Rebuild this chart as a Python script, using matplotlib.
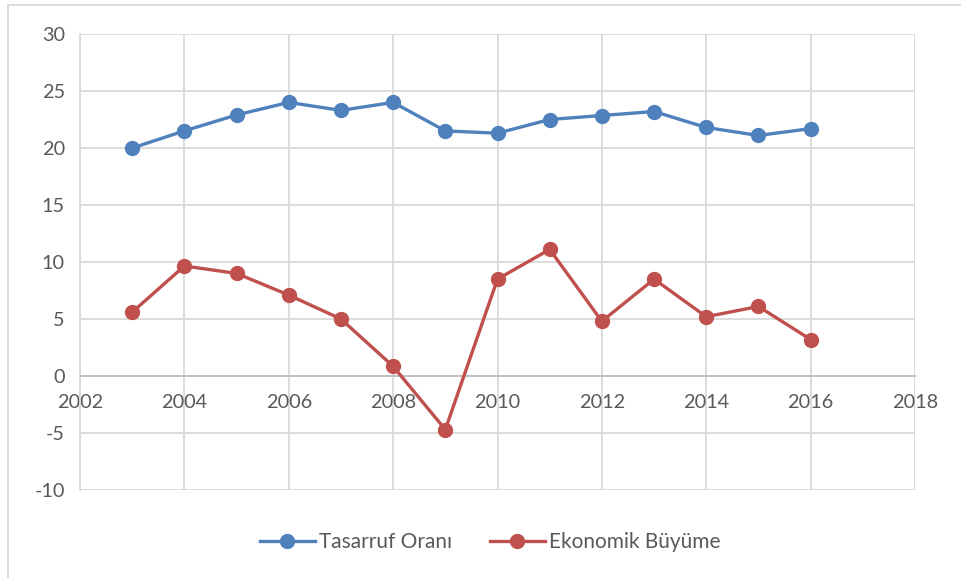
import matplotlib.pyplot as plt
from matplotlib.patches import Rectangle

# Datos
years = [2003, 2004, 2005, 2006, 2007, 2008, 2009, 2010, 2011, 2012, 2013, 2014, 2015, 2016]
tasarruf = [20.0, 21.5, 22.9, 24.0, 23.3, 24.0, 21.5, 21.3, 22.5, 22.85, 23.2, 21.8, 21.1, 21.7]
buyume = [5.6, 9.65, 9.0, 7.1, 5.0, 0.85, -4.7, 8.5, 11.1, 4.8, 8.5, 5.2, 6.1, 3.2]
x_ticks = [2002, 2004, 2006, 2008, 2010, 2012, 2014, 2016, 2018]
y_ticks = [-10, -5, 0, 5, 10, 15, 20, 25, 30]

plt.rcParams['font.family'] = ['Lato', 'DejaVu Sans']
plt.rcParams['axes.unicode_minus'] = False
text_color = '#595959'
grid_color = '#D9D9D9'

fig = plt.figure(figsize=(9.61, 5.78), dpi=100)
W, H = 961, 578
ax = fig.add_axes([80 / W, 1 - 490 / H, (915 - 80) / W, (490 - 34) / H])

ax.plot(years, tasarruf, color='#4F81BD', lw=2.4, marker='o', ms=10, label='Tasarruf Oranı', zorder=3)
ax.plot(years, buyume, color='#C0504D', lw=2.4, marker='o', ms=10, label='Ekonomik Büyüme', zorder=3)

ax.set_xlim(2002, 2018)
ax.set_ylim(-10, 30)
ax.set_xticks(x_ticks)
ax.set_yticks(y_ticks)
ax.grid(True, color=grid_color, lw=1.3)
ax.set_axisbelow(True)

# eje x en y=0, como en Excel
ax.spines['bottom'].set_position(('data', 0))
ax.spines['bottom'].set_color('#BFBFBF')
ax.spines['bottom'].set_linewidth(1.3)
ax.spines['left'].set_color(grid_color)
ax.spines['left'].set_linewidth(1.3)
ax.spines['top'].set_visible(False)
ax.spines['right'].set_visible(False)
ax.tick_params(length=0, labelsize=14.3, colors=text_color)
ax.tick_params(axis='x', pad=13)
ax.tick_params(axis='y', pad=11)

leg = fig.legend(loc='center', bbox_to_anchor=(490 / W, 1 - 542 / H), ncol=2, frameon=False,
                 fontsize=15, handlelength=2.65, columnspacing=1.8, handletextpad=0.2)
for t in leg.get_texts():
    t.set_color(text_color)

# marco del área del gráfico (recortado a la derecha y abajo)
fig.patches.append(Rectangle((8 / W, -0.1), 1.2, 1 - 5 / H + 0.1, transform=fig.transFigure,
                             fill=False, edgecolor=grid_color, lw=1.3))

fig.savefig('out.png', dpi=100)
